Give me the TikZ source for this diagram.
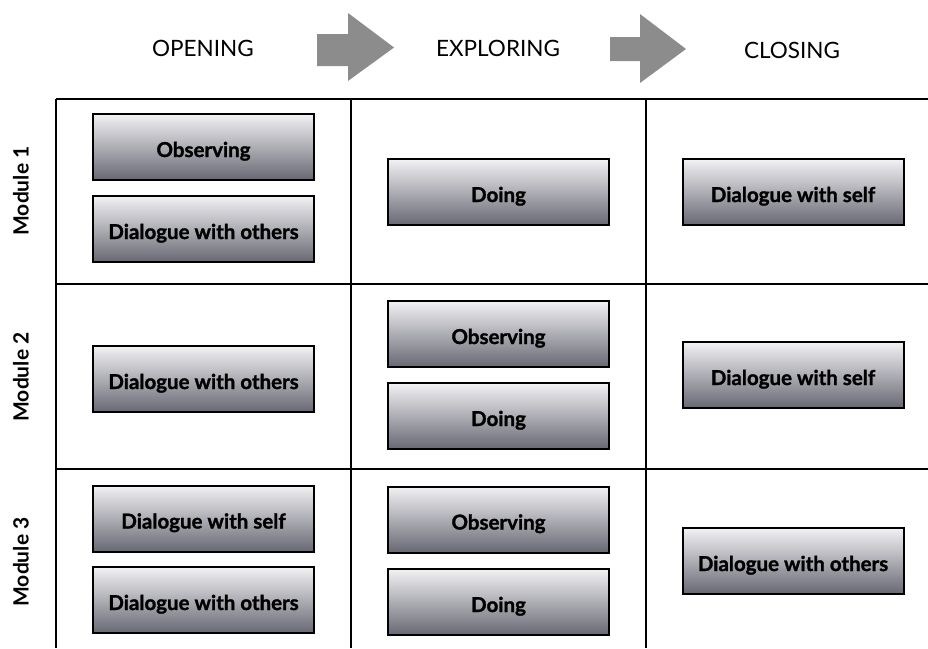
\documentclass[tikz,border=0pt]{standalone}
\usepackage{fontspec}
\setmainfont{Lato}
\newfontfamily\heavyfont{Lato}[BoldFeatures={FakeBold=1.3}]
\begin{document}
\begin{tikzpicture}[x=1pt,y=-1pt,
  gridline/.style={line width=2pt,black},
  activity/.style={draw=black,line width=2pt,minimum width=221pt,minimum height=66pt,
    inner sep=0pt,text height=20pt,text depth=0pt,
    top color={rgb,255:red,242;green,242;blue,244},
    bottom color={rgb,255:red,104;green,104;blue,116},
    font=\fontsize{20.5}{24}\heavyfont\bfseries},
  phase/.style={font=\fontsize{22.5}{26}\selectfont},
  module/.style={rotate=90,font=\fontsize{21}{25}\selectfont\bfseries},
  flow/.style={fill={rgb,255:red,140;green,140;blue,140},draw=none}]
\useasboundingbox (0,0) rectangle (928,648);

% phase headings and the arrows between them
\node[phase] (open) at (203,48) {OPENING};
\node[phase] (explore) at (498,48) {EXPLORING};
\node[phase] (close) at (792,50) {CLOSING};
\fill[flow] (317,34) -- (348,34) -- (348,13) -- (394,47.5) -- (348,81) -- (348,66) -- (317,66) -- cycle;
\fill[flow] (610,37) -- (640,37) -- (640,14) -- (686,49) -- (640,83) -- (640,61) -- (610,61) -- cycle;

% grid
\draw[gridline] (56,99) -- (928,99);
\draw[gridline] (56,284) -- (928,284);
\draw[gridline] (56,469) -- (928,469);
\draw[gridline] (56,99) -- (56,648);
\draw[gridline] (351,99) -- (351,648);
\draw[gridline] (646,99) -- (646,648);

% module labels
\node[module] (m1) at (21,191) {Module 1};
\node[module] (m2) at (21,377) {Module 2};
\node[module] (m3) at (21,562) {Module 3};

% module 1
\node[activity] (a11) at (203.5,147) {Observing};
\node[activity] (a12) at (203.5,229) {Dialogue with others};
\node[activity] (a21) at (498.5,192) {Doing};
\node[activity] (a31) at (793,192) {Dialogue with self};

% module 2
\node[activity] (b11) at (203.5,379) {Dialogue with others};
\node[activity] (b21) at (498.5,334) {Observing};
\node[activity] (b22) at (498.5,416) {Doing};
\node[activity] (b31) at (793,375) {Dialogue with self};

% module 3
\node[activity] (c11) at (203.5,518.5) {Dialogue with self};
\node[activity] (c12) at (203.5,600) {Dialogue with others};
\node[activity] (c21) at (498.5,519.5) {Observing};
\node[activity] (c22) at (498.5,602) {Doing};
\node[activity] (c31) at (793,561) {Dialogue with others};
\end{tikzpicture}
\end{document}
